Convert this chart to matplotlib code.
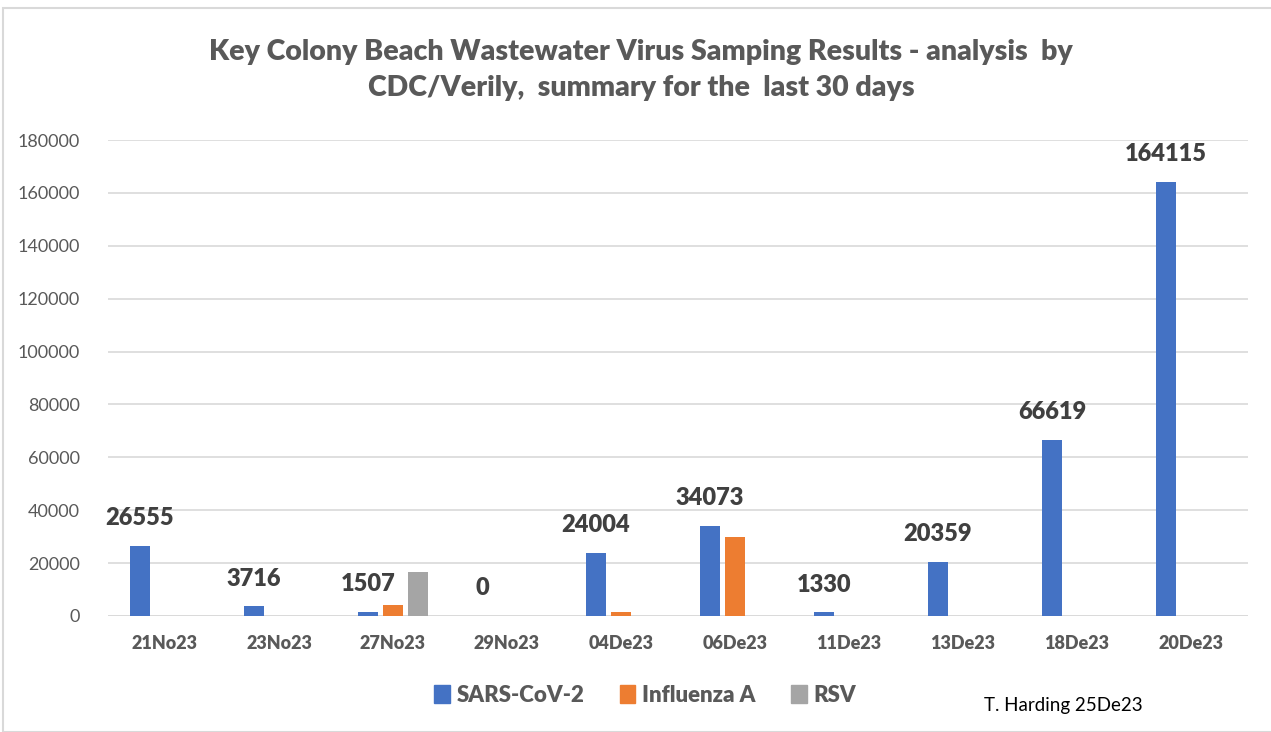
import numpy as np
import matplotlib
matplotlib.use("Agg")
import matplotlib.pyplot as plt
from matplotlib.patches import Rectangle, Patch

dates = ["21No23", "23No23", "27No23", "29No23", "04De23",
         "06De23", "11De23", "13De23", "18De23", "20De23"]
sars = [26555, 3716, 1507, 0, 24004, 34073, 1330, 20359, 66619, 164115]
flu = [0, 0, 4100, 0, 1600, 29900, 0, 0, 0, 0]
rsv = [0, 0, 16600, 0, 0, 0, 0, 0, 0, 0]
series_names = ["SARS-CoV-2", "Influenza A", "RSV"]
colors = ["#4472c4", "#ed7d31", "#a5a5a5"]

title = "Key Colony Beach Wastewater Virus Samping Results - analysis  by\nCDC/Verily,  summary for the  last 30 days"
credit = "T. Harding 25De23"

plt.rcParams['font.family'] = ['Lato', 'DejaVu Sans']
grey = "#595959"
heavy = 800

W, H = 1271, 732
fig = plt.figure(figsize=(W / 100, H / 100), dpi=100)

# chart area border (only top/left visible in the crop)
fig.patches.append(Rectangle((3 / W, 0), 1.2, 1 - 8 / H, transform=fig.transFigure,
                             fill=False, edgecolor="#d9d9d9", linewidth=1.5))

ax = fig.add_axes([108 / W, 1 - 616 / H, (1248 - 108) / W, (616 - 140) / H])

x = np.arange(len(dates))
bw = 0.17
step = 0.22
for k, (vals, c) in enumerate(zip([sars, flu, rsv], colors)):
    ax.bar(x + (k - 1) * step, vals, bw, color=c, zorder=3)

for xi, v in zip(x, sars):
    ax.annotate(str(v), (xi - step, v), xytext=(0, 12), textcoords="offset points",
                ha="center", va="bottom", fontsize=17, fontweight=heavy, color="#404040")

ax.set_xlim(-0.5, len(dates) - 0.5)
ax.set_ylim(0, 180000)
ax.set_yticks(np.arange(0, 180001, 20000))
ax.yaxis.grid(True, color="#d9d9d9", linewidth=1.2, zorder=0)
ax.set_axisbelow(True)
for s in ["top", "right", "left", "bottom"]:
    ax.spines[s].set_visible(False)
ax.axhline(0, color="#d9d9d9", linewidth=1.2, zorder=1)
ax.tick_params(axis="both", length=0, colors=grey)
ax.tick_params(axis="y", labelsize=13, pad=20)
ax.set_xticks(x)
ax.set_xticklabels(dates, fontsize=13, fontweight=heavy, color=grey)
ax.tick_params(axis="x", pad=14)

fig.text(641 / W, 1 - 70 / H, title, ha="center", va="center", fontsize=20.5,
         fontweight=heavy, color=grey, linespacing=1.45)

handles = [Patch(color=c, label=n) for c, n in zip(colors, series_names)]
leg = fig.legend(handles=handles, loc="center", bbox_to_anchor=(645 / W, 1 - 695 / H),
                 ncol=3, frameon=False, handlelength=0.7, handleheight=0.9,
                 handletextpad=0.3, columnspacing=1.6,
                 prop={"size": 16, "weight": heavy})
for t in leg.get_texts():
    t.set_color(grey)

fig.text(1063 / W, 1 - 705 / H, credit, ha="center", va="center", fontsize=13.5, color="black")

fig.savefig("out.png", dpi=100)
